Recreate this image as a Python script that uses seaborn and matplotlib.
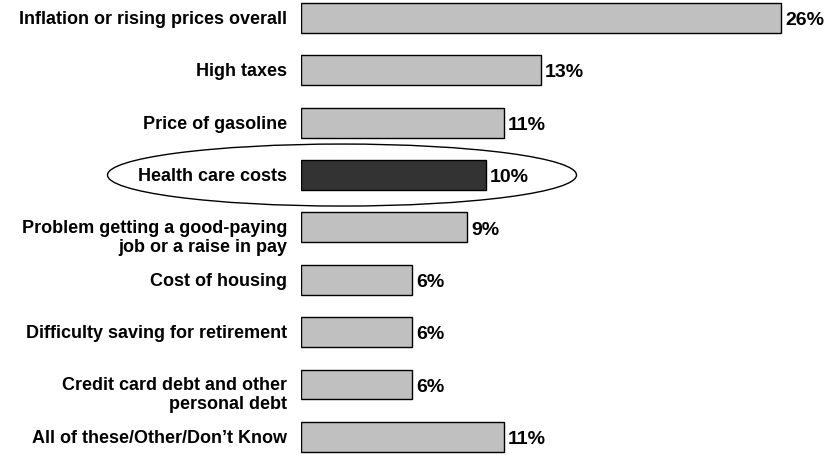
import matplotlib
matplotlib.use("Agg")
import matplotlib.pyplot as plt
from matplotlib.patches import Ellipse
import seaborn as sns
import pandas as pd

categories = [
    "Inflation or rising prices overall",
    "High taxes",
    "Price of gasoline",
    "Health care costs",
    "Problem getting a good-paying\njob or a raise in pay",
    "Cost of housing",
    "Difficulty saving for retirement",
    "Credit card debt and other\npersonal debt",
    "All of these/Other/Don\u2019t Know",
]
values = [26, 13, 11, 10, 9, 6, 6, 6, 11]
highlight = "Health care costs"

df = pd.DataFrame({"category": categories, "value": values})
colors = ["#333333" if c == highlight else "#C0C0C0" for c in categories]

sns.set_style("white")
plt.rcParams["font.family"] = ["Liberation Sans", "DejaVu Sans"]
plt.rcParams["text.color"] = "black"

px_per_unit = 18.46
row_px = 52.35

fig = plt.figure(figsize=(8.32, 4.55), dpi=100)
ax = fig.add_axes([301 / 832, 0, 1 - 301 / 832, 1])

sns.barplot(data=df, x="value", y="category", hue="category", palette=colors,
            legend=False, width=0.57, edgecolor="black", linewidth=1.0,
            saturation=1, ax=ax)

ax.set_xlim(0, 531 / px_per_unit)
ax.set_ylim((455 - 18) / row_px, -18 / row_px)
ax.set_xlabel("")
ax.set_ylabel("")
ax.set_xticks([])
ax.set_yticks([])
sns.despine(ax=ax, left=True, bottom=True)

# category labels; two-line labels keep their first line level with the bar
for i, c in enumerate(categories):
    dy = 10.5 / row_px if "\n" in c else 0.03
    ax.text(-14 / px_per_unit, i + dy, c, ha="right", va="center",
            multialignment="right", fontsize=13, fontweight="bold",
            linespacing=1.15, clip_on=False)

for i, v in enumerate(values):
    ax.text(v + 0.22, i + 0.05, f"{v}%", va="center", ha="left",
            fontsize=14, fontweight="bold")

hi = categories.index(highlight)
ell = Ellipse(((342 - 301) / px_per_unit, hi), 469 / px_per_unit, 62 / row_px,
              facecolor="none", edgecolor="black", linewidth=1.0, clip_on=False)
ax.add_patch(ell)

fig.savefig("out.png", dpi=100)
